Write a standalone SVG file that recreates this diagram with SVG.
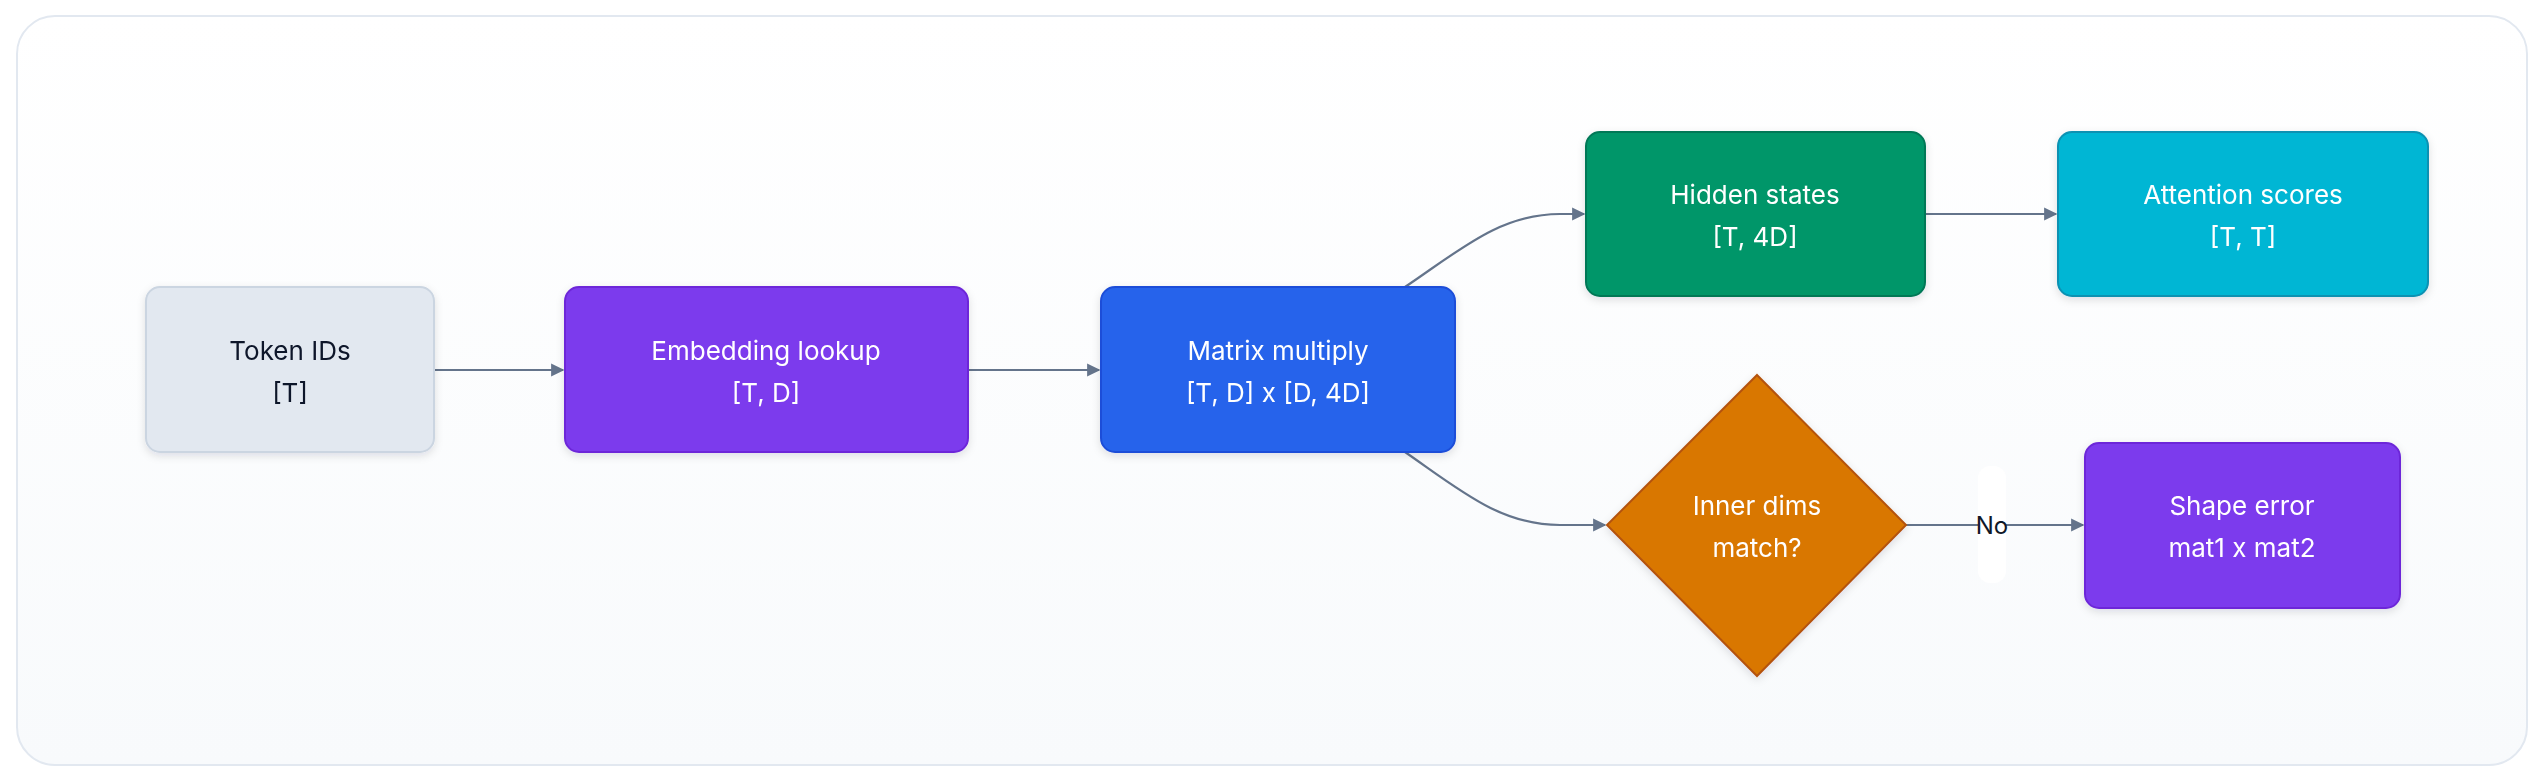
<svg xmlns="http://www.w3.org/2000/svg" width="2544" height="782" viewBox="0 0 2544 782">
<defs>
<linearGradient id="bg" x1="0" y1="0" x2="0" y2="1"><stop offset="0" stop-color="#ffffff"/><stop offset="1" stop-color="#f8fafc"/></linearGradient>
<filter id="sh" x="-20%" y="-20%" width="140%" height="150%"><feDropShadow dx="0" dy="3" stdDeviation="4" flood-color="#0f172a" flood-opacity="0.12"/></filter>
<marker id="ar" viewBox="0 0 10 10" refX="9" refY="5" markerWidth="6" markerHeight="6" markerUnits="strokeWidth" orient="auto"><path d="M0,0 L10,5 L0,10 z" fill="#64748b"/></marker>
<style>
.e{fill:none;stroke:#64748b;stroke-width:2.2;marker-end:url(#ar)}
.t{font-family:Inter,"Noto Sans",sans-serif;font-size:26px;text-anchor:middle;fill:#ffffff}
.n{filter:url(#sh)}
</style>
</defs>
<rect x="0" y="0" width="2544" height="782" fill="#ffffff"/>
<rect x="17" y="16" width="2510" height="749" rx="38" fill="url(#bg)" stroke="#e2e8f0" stroke-width="2"/>
<g id="connectors">
<path class="e" d="M434,370 L563,370"/>
<path class="e" d="M968,370 L1099,370"/>
<path class="e" d="M1405,287 C1460,250 1500,214 1560,214 L1584,214"/>
<path class="e" d="M1405,452 C1460,490 1500,525 1560,525 L1605,525"/>
<path class="e" d="M1925,214 L2056,214"/>
<path class="e" d="M1906,525 L2083,525"/>
<rect x="1978" y="466" width="28" height="117" rx="12" fill="#ffffff"/>
<text x="1992" y="534" font-family="Inter,'Noto Sans',sans-serif" font-size="24" text-anchor="middle" fill="#111827">No</text>
</g>
<g id="token" class="n"><rect x="146" y="287" width="288" height="165" rx="14" fill="#e2e8f0" stroke="#cbd5e1" stroke-width="2"/>
<text class="t" x="290" y="360" fill="#0f172a" style="fill:#0f172a">Token IDs</text><text class="t" x="290" y="402" style="fill:#0f172a">[T]</text></g>
<g id="embedding" class="n"><rect x="565" y="287" width="403" height="165" rx="14" fill="#7c3aed" stroke="#6d28d9" stroke-width="2"/>
<text class="t" x="766" y="360">Embedding lookup</text><text class="t" x="766" y="402">[T, D]</text></g>
<g id="matrix" class="n"><rect x="1101" y="287" width="354" height="165" rx="14" fill="#2563eb" stroke="#1d4ed8" stroke-width="2"/>
<text class="t" x="1278" y="360">Matrix multiply</text><text class="t" x="1278" y="402">[T, D] x [D, 4D]</text></g>
<g id="hidden" class="n"><rect x="1586" y="132" width="339" height="164" rx="14" fill="#059669" stroke="#047857" stroke-width="2"/>
<text class="t" x="1755" y="204">Hidden states</text><text class="t" x="1755" y="246">[T, 4D]</text></g>
<g id="attention" class="n"><rect x="2058" y="132" width="370" height="164" rx="14" fill="#06b6d4" stroke="#0891b2" stroke-width="2"/>
<text class="t" x="2243" y="204">Attention scores</text><text class="t" x="2243" y="246">[T, T]</text></g>
<g id="decision" class="n"><polygon points="1757,375 1906,525 1757,676 1607,525" fill="#d97706" stroke="#b45309" stroke-width="2"/>
<text class="t" x="1757" y="515">Inner dims</text><text class="t" x="1757" y="557">match?</text></g>
<g id="shapeerror" class="n"><rect x="2085" y="443" width="315" height="165" rx="14" fill="#7c3aed" stroke="#6d28d9" stroke-width="2"/>
<text class="t" x="2242" y="515">Shape error</text><text class="t" x="2242" y="557">mat1 x mat2</text></g>
</svg>
